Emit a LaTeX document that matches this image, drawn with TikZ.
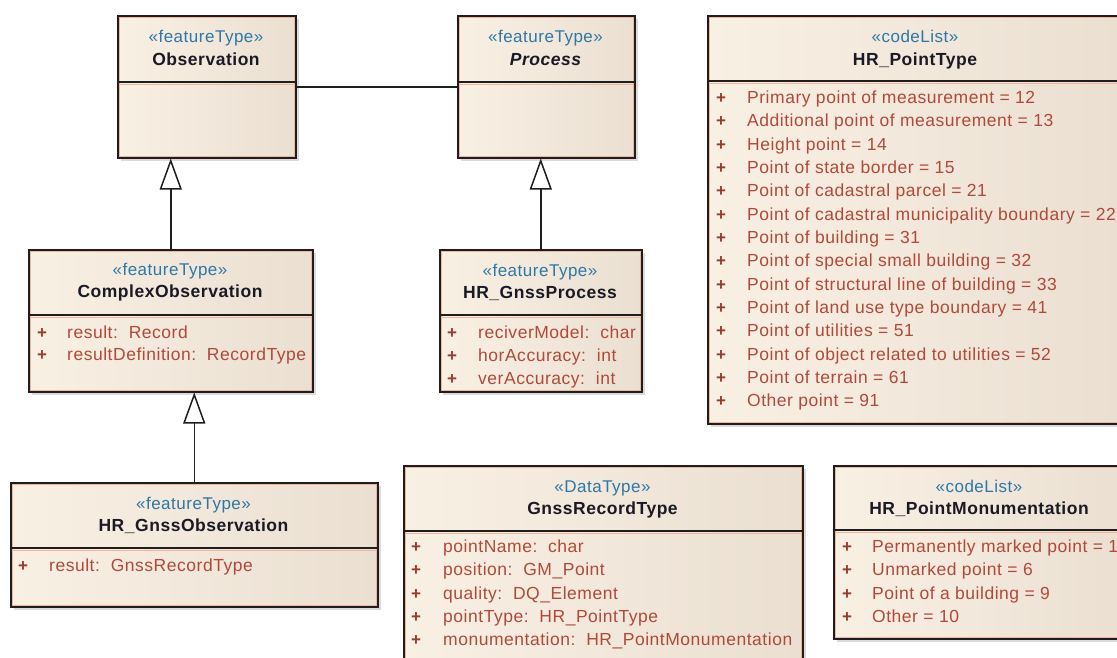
\documentclass[tikz,border=0pt]{standalone}
\usepackage{fontspec}
\setmainfont{Liberation Sans}[LetterSpace=3]
\usetikzlibrary{arrows.meta,shadows}
\definecolor{boxL}{HTML}{F9F0E4}
\definecolor{boxR}{HTML}{EADFD1}
\definecolor{stereoC}{HTML}{2C78A6}
\definecolor{attrC}{HTML}{B04A3A}
\definecolor{plusC}{HTML}{9A3A2C}
\definecolor{edgeC}{HTML}{1E1E1E}
\definecolor{innerC}{HTML}{F2B49C}
\definecolor{nameC}{HTML}{1A1A26}
\begin{document}
\begin{tikzpicture}[x=1pt,y=-1pt,
  cls/.style={draw=edgeC, line width=1.5pt, left color=boxL, right color=boxR,
    anchor=north west, inner sep=0pt,
    drop shadow={shadow xshift=3pt, shadow yshift=-3pt, opacity=0.28, fill=gray},
    path picture={\draw[innerC, line width=0.8pt]
      ([shift={(1.7pt,-1.7pt)}]path picture bounding box.north west) rectangle
      ([shift={(-1.7pt,1.7pt)}]path picture bounding box.south east);}},
  sepline/.style={draw=edgeC, line width=1.5pt},
  sepglow/.style={draw=innerC, line width=0.8pt},
  stereo/.style={text=stereoC, font=\fontsize{17}{20}\selectfont, inner sep=0pt, text height=0.72em, text depth=0pt},
  cname/.style={text=nameC, font=\fontsize{17.5}{20}\selectfont\bfseries, inner sep=0pt, text height=0.72em, text depth=0pt},
  attr/.style={text=attrC, font=\fontsize{17.5}{20}\selectfont, inner sep=0pt, anchor=west, text height=0.72em, text depth=0pt},
  plus/.style={text=plusC, font=\fontsize{17}{20}\selectfont\bfseries, inner sep=0pt, anchor=west, text height=0.72em, text depth=0pt},
  gen/.style={draw=edgeC, line width=1.5pt, -{Triangle[open, length=31pt, width=22pt, line width=1.5pt]}},
  assoc/.style={draw=edgeC, line width=1.5pt}
]
\path[use as bounding box, clip] (0,0) rectangle (1117,657);
\fill[white] (0,0) rectangle (1117,657);

% ---------- Observation ----------
\node[cls, minimum width=178pt, minimum height=142pt] (obs) at (117,15) {};
\draw[sepline] (117,82) -- (295,82);
\draw[sepglow] (118.5,84) -- (293.5,84);
\node[stereo] (obsST) at (206,39) {«featureType»};
\node[cname] (obsN) at (206,62) {Observation};

% ---------- Process ----------
\node[cls, minimum width=177pt, minimum height=142pt] (proc) at (457,15) {};
\draw[sepline] (457,82) -- (634,82);
\draw[sepglow] (458.5,84) -- (632.5,84);
\node[stereo] (procST) at (545.5,39) {«featureType»};
\node[cname, font=\fontsize{17.5}{20}\selectfont\bfseries\itshape] (procN) at (545.5,62) {Process};

% ---------- HR_PointType ----------
\node[cls, minimum width=416pt, minimum height=408pt] (ptype) at (707,15) {};
\draw[sepline] (707,81) -- (1123,81);
\draw[sepglow] (708.5,83) -- (1121,83);
\node[stereo] (ptypeST) at (915,39) {«codeList»};
\node[cname] (ptypeN) at (915,62) {HR\_PointType};
\foreach \t [count=\i from 0] in {Primary point of measurement = 12,
  Additional point of measurement = 13, Height point = 14,
  Point of state border = 15, Point of cadastral parcel = 21,
  Point of cadastral municipality boundary = 22, Point of building = 31,
  Point of special small building = 32, Point of structural line of building = 33,
  Point of land use type boundary = 41, Point of utilities = 51,
  Point of object related to utilities = 52, Point of terrain = 61,
  Other point = 91}{
  \node[plus] (ptypeP\i) at (716,100+23.33*\i) {+};
  \node[attr] (ptypeA\i) at (747,100+23.33*\i) {\t};
}

% ---------- ComplexObservation ----------
\node[cls, minimum width=284pt, minimum height=142pt] (cobs) at (28,249) {};
\draw[sepline] (28,315) -- (312,315);
\draw[sepglow] (29.5,317) -- (310.5,317);
\node[stereo] (cobsST) at (170,272) {«featureType»};
\node[cname] (cobsN) at (170,294) {ComplexObservation};
\node[plus] (cobsP0) at (37,335) {+};
\node[attr] (cobsA0) at (67,335) {result:\ \ Record};
\node[plus] (cobsP1) at (37,357) {+};
\node[attr] (cobsA1) at (67,357) {resultDefinition:\ \ RecordType};

% ---------- HR_GnssProcess ----------
\node[cls, minimum width=202pt, minimum height=142pt] (gproc) at (439,249) {};
\draw[sepline] (439,315) -- (641,315);
\draw[sepglow] (440.5,317) -- (639.5,317);
\node[stereo] (gprocST) at (540,273) {«featureType»};
\node[cname] (gprocN) at (540,295) {HR\_GnssProcess};
\node[plus] (gprocP0) at (447,335) {+};
\node[attr] (gprocA0) at (478,335) {reciverModel:\ \ char};
\node[plus] (gprocP1) at (447,358) {+};
\node[attr] (gprocA1) at (478,358) {horAccuracy:\ \ int};
\node[plus] (gprocP2) at (447,381) {+};
\node[attr] (gprocA2) at (478,381) {verAccuracy:\ \ int};

% ---------- HR_GnssObservation ----------
\node[cls, minimum width=367pt, minimum height=124pt] (gobs) at (10,482) {};
\draw[sepline] (10,548) -- (377,548);
\draw[sepglow] (11.5,550) -- (375.5,550);
\node[stereo] (gobsST) at (193.5,506) {«featureType»};
\node[cname] (gobsN) at (193.5,528) {HR\_GnssObservation};
\node[plus] (gobsP0) at (18,568) {+};
\node[attr] (gobsA0) at (49,568) {result:\ \ GnssRecordType};

% ---------- GnssRecordType ----------
\node[cls, minimum width=399pt, minimum height=240pt] (grec) at (403,465) {};
\draw[sepline] (403,531) -- (802,531);
\draw[sepglow] (404.5,533) -- (800.5,533);
\node[stereo] (grecST) at (602.5,489) {«DataType»};
\node[cname] (grecN) at (602.5,511) {GnssRecordType};
\foreach \t [count=\i from 0] in {pointName:\ \ char, position:\ \ GM\_Point,
  quality:\ \ DQ\_Element, pointType:\ \ HR\_PointType,
  monumentation:\ \ HR\_PointMonumentation}{
  \node[plus] (grecP\i) at (411,549+23.3*\i) {+};
  \node[attr] (grecA\i) at (443,549+23.3*\i) {\t};
}

% ---------- HR_PointMonumentation ----------
\node[cls, minimum width=292pt, minimum height=173pt] (pmon) at (833,465) {};
\draw[sepline] (833,530) -- (1125,530);
\draw[sepglow] (834.5,532) -- (1123,532);
\node[stereo] (pmonST) at (979,489) {«codeList»};
\node[cname] (pmonN) at (979,511) {HR\_PointMonumentation};
\foreach \t [count=\i from 0] in {Permanently marked point = 1, Unmarked point = 6,
  Point of a building = 9, Other = 10}{
  \node[plus] (pmonP\i) at (842,549+23.3*\i) {+};
  \node[attr] (pmonA\i) at (872,549+23.3*\i) {\t};
}

% ---------- connectors ----------
\draw[assoc] (obs.east) -- (proc.west);
\draw[gen] (cobs.north) -- (cobs.north |- obs.south);
\draw[gen] (gobs.north) -- (gobs.north |- cobs.south);
\draw[gen] (gproc.north) -- (gproc.north |- proc.south);
\end{tikzpicture}
\end{document}
